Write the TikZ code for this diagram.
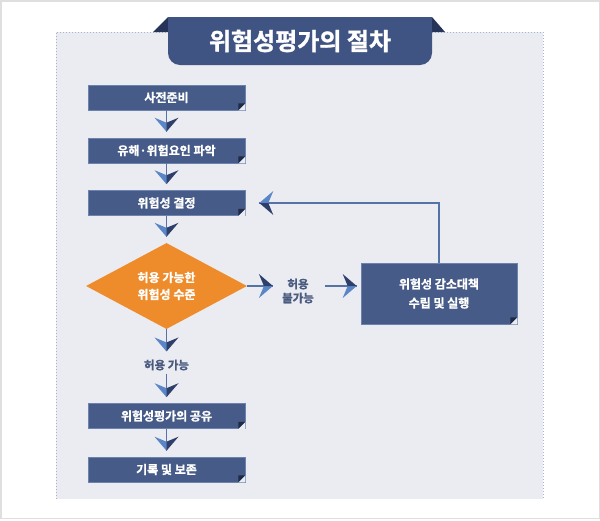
\documentclass[tikz,border=0pt]{standalone}
\usepackage{fontspec}
\setmainfont{Noto Sans CJK KR}[BoldFont={Noto Sans CJK KR Bold}, BoldFeatures={FakeBold=1.2}]
\usetikzlibrary{shapes.geometric}
\definecolor{panelbg}{HTML}{EBECF2}
\definecolor{paneledge}{HTML}{A3B3D0}
\definecolor{boxblue}{HTML}{465B87}
\definecolor{boxedge}{HTML}{6C83B0}
\definecolor{folddark}{HTML}{1E2A47}
\definecolor{titleblue}{HTML}{3F5482}
\definecolor{flapdark}{HTML}{26345A}
\definecolor{diaorange}{HTML}{EE8C2C}
\definecolor{arrlight}{HTML}{5A85C6}
\definecolor{arrdark}{HTML}{2D3F6A}
\definecolor{stemblue}{HTML}{5474A8}
\definecolor{labelblue}{HTML}{4B5B80}
\tikzset{
  stepbox/.style={rectangle, fill=boxblue, draw=boxedge, line width=0.6pt, text=white,
    minimum width=157pt, minimum height=25pt, inner sep=0pt,
    font=\fontsize{12}{19}\selectfont\bfseries, align=center},
  decision/.style={diamond, fill=diaorange, text=white, aspect=1.87,
    minimum width=161pt, minimum height=86pt, inner sep=0pt,
    font=\fontsize{12}{17}\selectfont\bfseries, align=center},
  answer/.style={text=labelblue, inner sep=3pt, align=center,
    font=\fontsize{11.5}{14}\selectfont\bfseries},
  stem/.style={stemblue, line width=1.4pt},
  chev/.pic={
    \fill[arrlight] (0,0) -- (-14,12) -- (-9,0) -- cycle;
    \fill[arrdark] (0,0) -- (-14,-12) -- (-9,0) -- cycle;
  }
}
\begin{document}
\begin{tikzpicture}[x=1pt,y=-1pt]
\useasboundingbox (0,0) rectangle (600,520);
\draw[gray!25, line width=1.5pt] (0.75,0.75) rectangle (599.25,518.5);
% panel
\fill[panelbg] (56,32) rectangle (543,499);
\draw[paneledge, dotted, line width=1pt] (56,499) -- (56,32) -- (543,32) -- (543,499);
% title banner
\fill[flapdark] (153,32) -- (168,17) -- (168,32) -- cycle;
\fill[flapdark] (432,17) -- (445,32) -- (432,32) -- cycle;
\fill[titleblue] (168,17) rectangle (432,40);
\node[fill=titleblue, rounded corners=12pt, minimum width=264pt, minimum height=48pt,
  text=white, font=\fontsize{24}{28}\selectfont\bfseries] (title) at (300,41) {위험성평가의 절차};

% steps
\node[stepbox] (b1) at (166.5,97.5) {사전준비};
\node[stepbox] (b2) at (166.5,150.5) {유해·위험요인 파악};
\node[stepbox] (b3) at (166.5,203) {위험성 결정};
\node[decision] (risk) at (166.5,286) {허용 가능한\\위험성 수준};
\node[answer] (ok) at (166.5,365) {허용 가능};
\node[stepbox] (b5) at (166.5,416) {위험성평가의 공유};
\node[stepbox] (b6) at (166.5,469.5) {기록 및 보존};
\node[answer] (no) at (298,291) {허용\\불가능};
\node[stepbox, minimum width=156pt, minimum height=61pt] (b4) at (439,293.5) {위험성 감소대책\\수립 및 실행};

% folded corners
\foreach \n in {b1,b2,b3,b4,b5,b6} {
  \fill[panelbg] (\n.south east) -- ([xshift=-7pt]\n.south east) -- ([yshift=7pt]\n.south east) -- cycle;
  \fill[folddark] ([xshift=-7pt]\n.south east) -- ([yshift=7pt]\n.south east) -- ([shift={(-7pt,7pt)}]\n.south east) -- cycle;
}

% down arrows
\foreach \a/\b in {b1/b2,b2/b3,b3/risk,b5/b6} {
  \draw[stem] (\a.south) -- ([yshift=6pt]\b.north);
  \pic[rotate=-90] at ([yshift=6pt]\b.north) {chev};
}
\draw[stem] (risk.south) -- ([yshift=5pt]ok.north);
\pic[rotate=-90] at ([yshift=5pt]ok.north) {chev};
\draw[stem] (ok.south) -- ([yshift=6pt]b5.north);
\pic[rotate=-90] at ([yshift=6pt]b5.north) {chev};

% not acceptable
\coordinate (nohit) at (risk.east -| b4.west);
\draw[stem] (risk.east) -- ([xshift=-6pt]no.west |- risk.east);
\pic at ([xshift=-6pt]no.west |- risk.east) {chev};
\draw[stem] ([xshift=8pt]no.east |- risk.east) -- ([xshift=-4pt]nohit);
\pic at ([xshift=-4pt]nohit) {chev};

% feedback
\draw[stem] (b4.north) |- ([xshift=14pt]b3.east);
\pic[rotate=180] at ([xshift=14pt]b3.east) {chev};
\end{tikzpicture}
\end{document}
